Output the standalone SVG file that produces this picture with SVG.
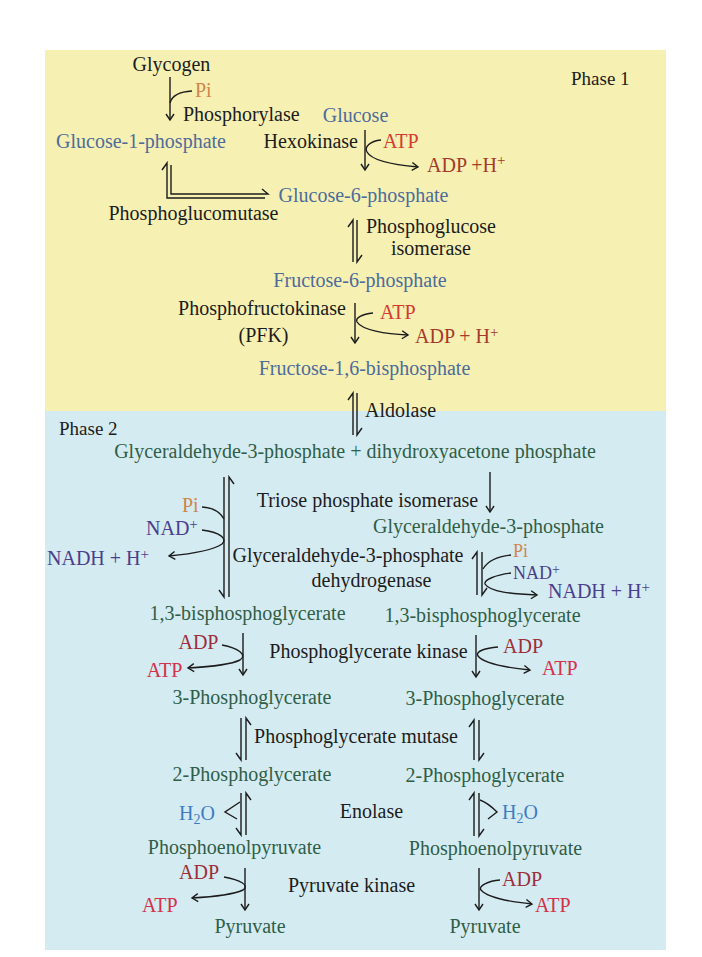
<svg xmlns="http://www.w3.org/2000/svg" width="702" height="957" viewBox="0 0 702 957">
<defs>
<style>
text{font-family:"Liberation Serif","Times New Roman",serif;font-size:20px}
.k{fill:#1c1c1c}
.p1{fill:#4d6c9a}
.p2{fill:#2f5e47}
.atp1{fill:#d63a2f}
.adp1{fill:#a5392b}
.adp{fill:#9c2f3a}
.atp{fill:#d2324a}
.pi{fill:#d0864a}
.nad{fill:#4a3f8c}
.h2o{fill:#3d7cc2}
.m{text-anchor:middle}
.e{text-anchor:end}
.sm{font-size:18px}
.ln{fill:none;stroke:#1c1c1c;stroke-width:1.4}
.ar{marker-end:url(#ah)}
.sup{font-size:15px}
.sub{font-size:14px}
</style>
<marker id="ah" viewBox="-7 -5 9 10" refX="0" refY="0" markerWidth="9" markerHeight="10" markerUnits="userSpaceOnUse" orient="auto">
<path d="M-6,-4 L0,0 L-6,4" fill="none" stroke="#1c1c1c" stroke-width="1.4"/>
</marker>
</defs>
<rect width="702" height="957" fill="#ffffff"/>
<g id="phase1-bg"><rect x="45" y="50" width="621" height="361" fill="#f6f0b3"/></g>
<g id="phase2-bg"><rect x="45" y="411" width="621" height="539" fill="#d5ebf2"/></g>

<g id="connectors">
<path class="ln ar" d="M170,77 V120"/>
<path class="ln" d="M170,103 Q173,92 192,91"/>
<path class="ln" d="M171,165 V194 H268 L262,189"/>
<path class="ln" d="M265,198 H167 V163 L162,170"/>
<path class="ln ar" d="M365,130 V170"/>
<path class="ln ar" d="M381,140 C370,141 364,147 367,152 C372,161 395,165 418,167"/>
<path class="ln" d="M353,262 V220 L348,227"/>
<path class="ln" d="M357,220 V262 L362,255"/>
<path class="ln ar" d="M355,303 V343"/>
<path class="ln ar" d="M373,313 C362,314 355,318 357,322 C362,330 385,334 408,335"/>
<path class="ln" d="M353,435 V393 L348,400"/>
<path class="ln" d="M357,393 V435 L362,428"/>
<path class="ln ar" d="M490,472 V512"/>
<path class="ln" d="M224,477 V597 L219,590"/>
<path class="ln" d="M229,597 V477 L234,484"/>
<path class="ln" d="M202,507 Q218,508 224,519"/>
<path class="ln ar" d="M202,530 C220,532 228,539 222,544 C212,551 190,554 169,556"/>
<path class="ln" d="M477,595 V552 L472,559"/>
<path class="ln" d="M482,552 V595 L487,588"/>
<path class="ln" d="M511,555 Q490,557 483,569"/>
<path class="ln ar" d="M511,573 C495,575 484,580 485,584 C490,592 512,594 537,595"/>
<path class="ln ar" d="M243,633 V675"/>
<path class="ln ar" d="M222,645 C238,648 248,655 240,660 C230,665 206,667 188,668"/>
<path class="ln ar" d="M476,635 V677"/>
<path class="ln ar" d="M498,647 C486,648 475,651 478,656 C484,664 510,668 530,670"/>
<path class="ln" d="M241,718 V760 L236,753"/>
<path class="ln" d="M246,760 V718 L251,725"/>
<path class="ln" d="M474,760 V720 L469,727"/>
<path class="ln" d="M479,720 V760 L484,753"/>
<path class="ln" d="M241,793 V835 L236,828"/>
<path class="ln" d="M246,835 V793 L251,800"/>
<path class="ln" d="M240,802 Q234,806 225,812 L237,819"/>
<path class="ln" d="M474,836 V793 L469,800"/>
<path class="ln" d="M479,793 V836 L484,829"/>
<path class="ln" d="M480,800 Q488,803 497,812 L488,819"/>
<path class="ln ar" d="M245,868 V910"/>
<path class="ln ar" d="M224,877 C240,880 250,885 243,890 C232,895 210,897 192,898"/>
<path class="ln ar" d="M479,868 V910"/>
<path class="ln ar" d="M500,880 C488,881 478,886 481,890 C488,898 512,902 532,904"/>
</g>

<g id="phase-labels">
<text class="k" x="571" y="85" style="font-size:19px">Phase 1</text>
<text class="k" x="59" y="435" style="font-size:19px">Phase 2</text>
</g>

<g id="glycogen"><text class="k m" x="171.5" y="71">Glycogen</text></g>
<g id="pi-1"><text class="pi" x="195" y="97">Pi</text></g>
<g id="phosphorylase"><text class="k" x="183" y="121">Phosphorylase</text></g>
<g id="glucose"><text class="p1 m" x="355.5" y="122">Glucose</text></g>
<g id="g1p"><text class="p1 m" x="141" y="148">Glucose-1-phosphate</text></g>
<g id="hexokinase"><text class="k e" x="358" y="148">Hexokinase</text></g>
<g id="atp-1"><text class="atp1" x="383" y="148">ATP</text></g>
<g id="adp-1"><text class="adp1" x="427" y="172">ADP +H<tspan class="sup" dy="-7">+</tspan></text></g>
<g id="g6p"><text class="p1 m" x="363.5" y="202">Glucose-6-phosphate</text></g>
<g id="pgm1"><text class="k m" x="193.5" y="220">Phosphoglucomutase</text></g>
<g id="pgi"><text class="k m" x="431" y="233">Phosphoglucose</text><text class="k m" x="431" y="255">isomerase</text></g>
<g id="f6p"><text class="p1 m" x="360" y="287">Fructose-6-phosphate</text></g>
<g id="pfk"><text class="k m" x="262" y="315">Phosphofructokinase</text><text class="k m" x="263.5" y="342">(PFK)</text></g>
<g id="atp-2"><text class="atp1" x="380" y="319">ATP</text></g>
<g id="adp-2"><text class="adp1" x="415" y="343">ADP + H<tspan class="sup" dy="-6">+</tspan></text></g>
<g id="f16bp"><text class="p1 m" x="364.5" y="375">Fructose-1,6-bisphosphate</text></g>
<g id="aldolase"><text class="k" x="365" y="417">Aldolase</text></g>

<g id="gap-dhap"><text class="p2 m" x="355" y="458">Glyceraldehyde-3-phosphate + dihydroxyacetone phosphate</text></g>
<g id="tpi"><text class="k m" x="367.5" y="507">Triose phosphate isomerase</text></g>
<g id="pi-l"><text class="pi" x="182" y="512">Pi</text></g>
<g id="nad-l"><text class="nad" x="146" y="535">NAD<tspan class="sup" dy="-6">+</tspan></text></g>
<g id="nadh-l"><text class="nad" x="47" y="565">NADH + H<tspan class="sup" dy="-6">+</tspan></text></g>
<g id="gapdh"><text class="k m" x="348" y="562">Glyceraldehyde-3-phosphate</text><text class="k m" x="371.5" y="587">dehydrogenase</text></g>
<g id="gap-r"><text class="p2 m" x="488.5" y="533">Glyceraldehyde-3-phosphate</text></g>
<g id="pi-r"><text class="pi sm" x="513" y="557">Pi</text></g>
<g id="nad-r"><text class="nad sm" x="513" y="579">NAD<tspan class="sup" dy="-5" style="font-size:14px">+</tspan></text></g>
<g id="nadh-r"><text class="nad" x="548" y="598">NADH + H<tspan class="sup" dy="-6">+</tspan></text></g>
<g id="bpg-l"><text class="p2 m" x="247.5" y="620">1,3-bisphosphoglycerate</text></g>
<g id="bpg-r"><text class="p2 m" x="482.5" y="622">1,3-bisphosphoglycerate</text></g>
<g id="adp-l1"><text class="adp m" x="198.5" y="649">ADP</text></g>
<g id="atp-l1"><text class="atp m" x="164.5" y="677">ATP</text></g>
<g id="pgk"><text class="k m" x="368.5" y="658">Phosphoglycerate kinase</text></g>
<g id="adp-r1"><text class="adp" x="503" y="653">ADP</text></g>
<g id="atp-r1"><text class="atp" x="542" y="675">ATP</text></g>
<g id="pg3-l"><text class="p2 m" x="252" y="704">3-Phosphoglycerate</text></g>
<g id="pg3-r"><text class="p2 m" x="485" y="705">3-Phosphoglycerate</text></g>
<g id="pgmut"><text class="k m" x="356" y="743">Phosphoglycerate mutase</text></g>
<g id="pg2-l"><text class="p2 m" x="252" y="781">2-Phosphoglycerate</text></g>
<g id="pg2-r"><text class="p2 m" x="485" y="782">2-Phosphoglycerate</text></g>
<g id="h2o-l"><text class="h2o" x="179" y="820">H<tspan class="sub" dy="4">2</tspan><tspan dy="-4">O</tspan></text></g>
<g id="enolase"><text class="k m" x="371.5" y="818">Enolase</text></g>
<g id="h2o-r"><text class="h2o" x="502" y="819">H<tspan class="sub" dy="4">2</tspan><tspan dy="-4">O</tspan></text></g>
<g id="pep-l"><text class="p2 m" x="234.5" y="854">Phosphoenolpyruvate</text></g>
<g id="pep-r"><text class="p2 m" x="495.5" y="855">Phosphoenolpyruvate</text></g>
<g id="adp-l2"><text class="adp" x="179" y="879">ADP</text></g>
<g id="atp-l2"><text class="atp" x="142" y="912">ATP</text></g>
<g id="pk"><text class="k m" x="351.5" y="892">Pyruvate kinase</text></g>
<g id="adp-r2"><text class="adp" x="502" y="886">ADP</text></g>
<g id="atp-r2"><text class="atp" x="535" y="912">ATP</text></g>
<g id="pyr-l"><text class="p2 m" x="250" y="933">Pyruvate</text></g>
<g id="pyr-r"><text class="p2 m" x="485" y="933">Pyruvate</text></g>
</svg>
